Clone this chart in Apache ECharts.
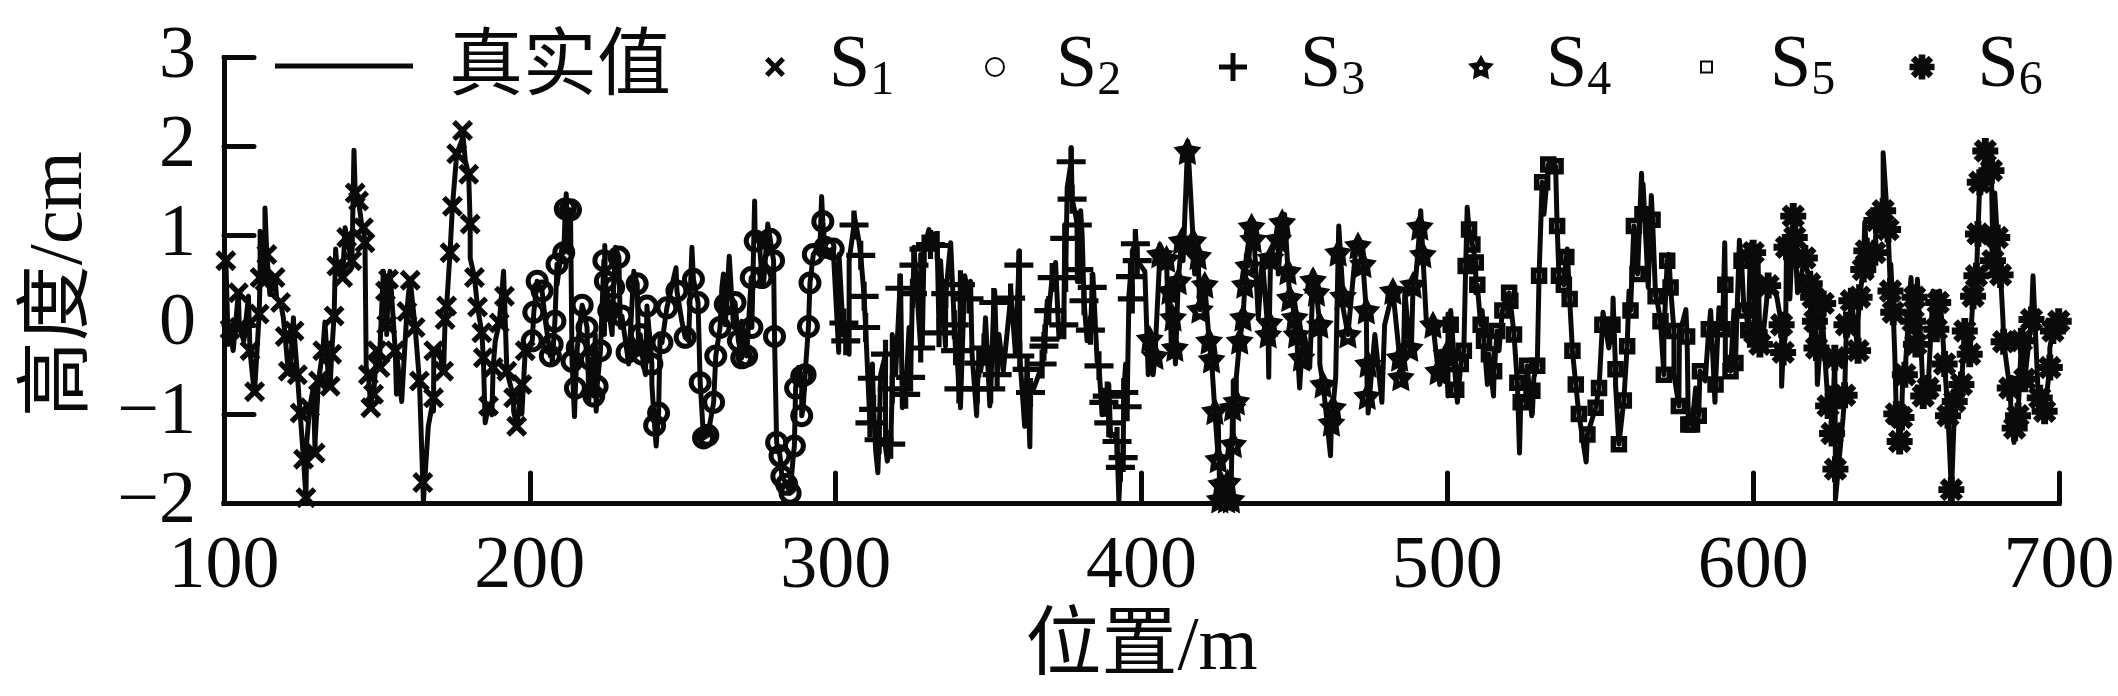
<!DOCTYPE html>
<html><head><meta charset="utf-8">
<style>html,body{margin:0;padding:0;background:#fff}#c{width:2118px;height:696px}</style>
<script src="https://cdn.jsdelivr.net/npm/echarts@6/dist/echarts.min.js"></script>
</head><body><div id="c"></div>
<script>
const xTicks=[100,200,300,400,500,600,700];
const s1=[[100.6,.72],[104.7,.36],[102,-.05],[105,-.03],[108.5,-.29],[110,-.75],[111.5,.12],[111.8,.53],[114,.79],[113.4,.49],[116.7,.53],[118.5,.25],[120,-.13],[122.9,-.07],[121,-.52],[124,-.56],[124.9,-.99],[126,-1.51],[129.8,-1.44],[126.8,-1.94],[128,-.93],[130.9,-.63],[134.7,-.69],[132.3,-.29],[135.2,-.33],[136,.1],[136.9,.66],[138.8,.53],[141.8,.72],[140.1,.98],[142.9,1.48],[144,1.39],[145.6,1.09],[146.1,.92],[147.2,-.56],[150,-.29],[151,-.48],[148.9,-.78],[148,-.93],[152.8,.38],[153.8,.51],[153.2,0],[160.9,.5],[159.8,.15],[162.5,-.03],[156,-.29],[163.9,-.63],[168.5,-.82],[165,-1.77],[168.6,-.29],[171.8,-.52],[172.3,.06],[172.8,.21],[173.9,.81],[174.7,1.33],[176.1,1.92],[178,2.18],[180,1.69],[180.5,1.13],[181.9,.53],[182.9,.2],[184.3,-.09],[184.8,-.37],[186.5,-.91],[188,-.48],[190,.02],[191.7,.32],[192.5,-.52],[194.7,-.82],[195.7,-1.14],[197.4,-.67],[198.5,-.29]];
const s2=[[200.8,-.18],[201.3,.14],[202.4,.49],[204,.38],[206.7,-.35],[208.2,.04],[207.3,-.22],[208.9,.68],[211.1,.81],[213.3,1.29],[211.6,1.3],[213.8,-.41],[214.9,-.71],[217.1,.22],[215.5,-.26],[218.7,-.03],[219.8,-.39],[223.1,-.29],[222,-.69],[220.9,-.8],[224.2,.72],[224.7,.49],[225.8,.16],[229.1,.76],[227.4,.42],[230.1,.1],[231.8,-.31],[235.1,.46],[236.1,-.11],[238.3,.21],[236.7,-.33],[239.9,-.44],[242.1,-.99],[240.8,-1.13],[243.2,-.2],[244.8,.19],[248.1,.38],[250.8,-.14],[253.5,.51],[255,.25],[255.7,-.65],[256.8,-1.27],[258.2,-1.24],[260.1,-.87],[260.8,-.35],[262.2,-.03],[263.9,.23],[268.2,-.18],[267.1,.25],[269.3,-.37],[270.9,-.35],[272.6,-.03],[272.4,.53],[273.7,.94],[275.9,.53],[278.6,.96],[279.7,.72],[280,-.13],[280.7,-1.32],[281.8,-1.47],[286.5,-1.36],[282.4,-1.7],[284,-1.79],[285.1,-1.89],[286.9,-.71],[288.9,-.58],[290,-.56],[288.9,-1.02],[291.1,-.02],[291.6,.47],[292.7,.79],[295.8,1.16],[296.5,.87],[299.2,.85]];
const s3=[[306,1.12],[308.2,.78],[309.3,.32],[309.8,-.03],[302.7,.02],[303.3,-.18],[312,-.6],[311.2,-1.1],[312.4,-.95],[314.2,-1.29],[318,-1.34],[316.3,-.33],[318.5,-.72],[322.9,-.78],[324.5,-.59],[321,.41],[325.1,.35],[325.6,.67],[328.9,.85],[331,.9],[333.2,.89],[333.8,-.09],[327.8,-.26],[336,.35],[338.8,0],[340.8,.45],[340.3,-.72],[339.2,-.29],[343.6,.29],[346.3,-.72],[350.7,-.72],[346.8,-.43],[348.5,-.26],[351.7,.25],[352.8,-.56],[357.2,.3],[359.9,.67],[360.2,-.35],[362.6,-.5],[363.7,-.76],[368.1,-.24],[367.5,-.44],[368.4,-.16],[369.7,.16],[370.8,.53],[374.6,0],[375.2,.53],[374.9,.97],[377.3,1.41],[377,1.83],[379,1.12],[379.5,.62],[381.2,.27],[383.9,.42],[383.3,-.06],[386.1,-.46],[388.8,-.8],[387.7,-.87],[389.3,-1.1],[392,-1.31],[394.2,-.76],[395.3,-.92],[394,-1.49],[393.1,-1.6],[398,.91],[397,.29],[396.4,.54],[398.6,.72]];
const s4=[[402.7,-.16],[404.4,-.35],[406,.79],[408.2,.74],[409.3,.38],[410.3,.08],[410.9,-.26],[412,.49],[413.1,.94],[415,1.95],[416.9,.94],[418.5,.77],[419.1,.17],[420.7,.45],[422.1,-.18],[422.9,-.39],[424,-.97],[425.1,-1.51],[426.1,-1.79],[425.6,-1.96],[427.8,-1.96],[429.4,-1.96],[428.2,-1.77],[430,-1.34],[429.8,-.93],[431,-.86],[432.1,-.18],[433.2,.08],[433.8,.45],[434.9,.66],[436,1.1],[436.5,.96],[441.4,-.11],[441.8,.02],[442.2,.75],[444.7,.96],[446,1.15],[447.9,.6],[448.5,.3],[450.1,.08],[450.7,-.11],[452.3,-.37],[456.1,.5],[457.2,.36],[458.3,0],[459.4,-.67],[462.6,-.93],[462.1,-1.1],[464.3,.81],[465.9,.32],[467.5,-.11],[470.8,.89],[472.4,.68],[473.5,.16],[474.1,-.44],[473.8,-.8],[482.2,.38],[484.4,-.37],[484.8,-.59],[487.7,-.26],[491,1.1],[492,.79],[488.8,.45],[495.3,0],[497,-.52],[499.7,-.33]];
const s5=[[500.5,-.44],[501.1,0],[502.9,-.73],[504.4,-.44],[505.4,-.29],[506,.66],[507.1,1.07],[508.2,.9],[509.3,.7],[509.8,.45],[510.9,0],[512,-.18],[513.6,-.33],[515.3,-.52],[516.3,-.07],[518,.16],[520.2,.36],[520.6,.27],[521.8,-.11],[522.9,-.65],[524,-.87],[526.1,-.46],[527.8,-.74],[529.4,-.46],[530,.55],[531,1.6],[533,1.8],[535.4,1.78],[535.9,1.11],[536.5,.55],[538.9,.76],[538.1,.45],[540,.29],[540.9,-.29],[542,-.67],[543,-1],[545.8,-1.23],[548.5,-.93],[549.6,-.71],[550.7,0],[554,0],[555,-.5],[556.1,-1.34],[557.7,-.85],[558.8,-.24],[559.9,.16],[561,1.11],[562.2,.57],[563.8,1.24],[567.1,1.18],[568.1,.32],[569.7,.04],[571.9,.72],[573,.42],[570.8,-.56],[574.1,-.07],[575.7,-.91],[578.4,-.13],[578.8,-1.12],[580,-1.12],[582.2,-1.02],[582.6,-.52],[585.5,-.05],[587.7,-.67],[590.9,.45],[590,-.05],[592.6,-.52],[594.2,-.43],[596.2,.72],[597,.16],[598.4,-.06]];
const s6=[[600,.81],[602.2,-.22],[604.9,.44],[600.5,-.09],[609.3,0],[609.8,-.31],[610.9,.87],[613.1,1.22],[613.6,.98],[616.9,.75],[618.5,.46],[619.6,.31],[620.2,.04],[622.9,.24],[620.7,-.26],[624.5,-.91],[625.8,-1.22],[626.9,-1.62],[626.7,-.37],[629.9,-.79],[630.5,0],[632.1,.27],[634.8,.31],[634.3,-.29],[636,.62],[637,.83],[639.8,.81],[640.3,1.17],[642.5,1.28],[644.1,1.07],[644.9,.38],[645.8,.14],[646.8,-1],[648.5,-1.04],[647.9,-1.31],[649.6,-.56],[652.8,.31],[652.3,.04],[653.2,-.22],[655.6,-.8],[657.2,-.71],[660.5,.25],[659.9,-.05],[662.6,-.44],[663.7,-1.02],[665.9,-.86],[668.1,-.67],[664.8,-1.85],[669.2,-.07],[670.8,-.33],[671.9,.32],[673,.55],[673.5,1.02],[674.1,1.6],[675.9,1.95],[677.9,1.73],[679.8,.98],[678.4,.72],[680.9,.56],[681.9,-.19],[683.9,-.71],[685.5,-1.16],[686.6,-1.02],[687.7,-.18],[688.8,-.61],[691,.06],[693.7,-.82],[695.3,-.97],[697,-.48],[698,-.07],[699.9,.04]];
// Turning points that only the true-value line reaches; between them it runs through the points read for the markers.
const truthOnly=[[100,.77],[109.6,-.67],[111.8,1.05],[113.4,1.31],[142.5,1.96],[146.5,-.48],[156.4,-.78],[158.1,-.86],[165.2,-1.98],[177.8,2.07],[186,-1.1],[191.4,.6],
[211.9,1.47],[214.6,-1.03],[221.7,-.97],[224.5,.89],[226.9,-.11],[241.3,-1.36],[247.8,.64],[253,.87],[263.3,.57],[265.2,.77],[273.5,1.39],[277.8,1.13],[295.4,1.44],
[301,-.31],[304.4,-.33],[313.8,-1.66],[316.9,-1.53],[322.1,-.93],[330.5,1.07],[335.9,-.24],[337.6,.92],[340.8,-.93],[346.1,-1.02],[350.4,-.91],[352,.38],[354.8,-.52],[360.1,.83],[361.8,-1.14],[363.5,-1.37],[371.9,.7],[377,1.99],[380.1,1.28],[382.8,-.2],[384.1,.57],[389.9,-1.25],[392.6,-1.98],[398,1.05],
[403.8,-.56],[411.1,-.44],[415.1,2.06],[429.4,-1.66],[430.7,-.61],[441.6,-.59],[451.7,-.71],[461.8,-1.47],[464.5,1.11],[474.1,-.99],[478.6,-.87],[491.3,1.28],[500.2,-.8],
[506.5,1.32],[515.1,-.8],[523.6,-1.44],[527.8,-1],[545.4,-1.54],[550.9,.14],[554.2,.3],[563.5,1.7],[566.7,1.45],[578,.17],[586.1,.16],[587.5,-.87],[590.7,.92],[595.5,.95],
[609.3,-.69],[612,.29],[614.5,.36],[621,-.67],[626.9,-1.96],[629.6,-1.06],[636.5,1.15],[642.5,1.93],[647.4,-1.12],[651.6,.53],[653.7,.51],[664.8,-1.94],[679,1.48],[685.3,-1.32],[691.5,.55],[700,.04]];
const truthDetail=[[101.4,-.22],[103,-.29],[106.5,-.18],[108,.32],[109.6,-.41],[115,.34],[117.2,.3],[119.4,.08],[121.6,-.56],[122.7,.08],[127,-1.34],[129.2,-.71],[129.8,-1.3],[133,.03],[134.1,-.59],[136.5,.85],[139.6,1.09],[141.8,.64],[145,1.13],[148.3,-.82],[151,-.26],[152.1,.6],[153.2,-.11],[154.3,.6],[156.5,-.33],[160.3,.34],[166.8,-1.14],[168.5,-.97],[170.1,-.26],[178.9,1.84],[180.5,.75],[185.4,-1.1],[187.6,-1.01],[188.7,-.18],[194.7,-.97],[197.4,-1],
[205.1,.04],[207.3,-.44],[208.9,.45],[210.6,.9],[212.7,.81],[217.6,.16],[219.3,-.86],[221.4,-.11],[224.4,-.11],[227.1,-.11],[228,.87],[229.6,-.03],[232.3,-.44],[234,.6],[235.6,-.33],[237.8,-.56],[239.9,-.67],[242.6,-.11],[249.7,.04],[251.9,-.18],[262.8,.42],[263.9,0],[266.6,-.03],[269.3,.04],[274.8,1.02],[276.4,.45],[286.2,-1.45],[287.8,-.48],[289.4,-.93],[294.9,.9],[297.6,.83],
[301.1,.79],[302.5,-.11],[304.4,.72],[306,1.24],[307.6,.94],[312,-.44],[313.1,-1.42],[314.7,-.56],[316.3,-1.38],[318.5,-.11],[319.6,-.56],[321.2,.55],[321.8,-.93],[324,-.03],[325.6,.87],[328.3,-.26],[327.8,.79],[332,1.02],[334.3,.72],[339.8,-.41],[342.2,.55],[344.1,.49],[344.6,-.33],[347.4,-.52],[349,.08],[353.4,-.11],[357.2,.4],[358.8,-.33],[364.8,-.71],[366.4,-.56],[369.2,.27],[373,-.14],[375.7,1.54],[378.4,1.24],[379,.49],[380.6,1],[382.2,-.18],[385.5,-.41],[387.1,-1.01],[389.3,-.67],[391,-1.23],[394.8,-.44],[395.9,.34],[397,.83],
[401.1,.6],[402.2,-.56],[406,.9],[408.7,.04],[409.8,-.33],[411.4,-.46],[413.6,.72],[417.4,.57],[425.1,-1.08],[430,-.63],[431,-.59],[434.3,.79],[436.5,1.17],[438.2,.08],[439.5,.75],[443,.87],[444.7,.57],[446.8,1.24],[449.6,.19],[453.4,-.14],[455,-.48],[456.1,.6],[458.3,-.44],[463.5,-.59],[465.9,.19],[470.3,.94],[476.3,-.11],[479.5,0],[485.5,-.63],[486.1,.38],[488.2,-.33],[489.7,.53],[493.1,.06],[497.5,-.67],[500.2,.12],
[501.1,.16],[503.3,-.87],[509.3,.36],[511.4,.16],[513.1,-.67],[516.9,-.29],[521.2,.08],[525.6,-.78],[527.6,-1.02],[528.3,-.59],[531.6,1.24],[539.2,.85],[552.8,-.26],[555,-.67],[559.4,.38],[562.1,.72],[564,1.58],[565.7,.42],[568.6,.27],[570.8,-.11],[572.4,.79],[574.1,-.56],[575.9,-.11],[579,-1],[581.2,-.71],[584.3,-.63],[588.8,.19],[590.9,-.48],[593.7,.16],[597.5,.19],[599.1,.9],
[601.6,.72],[603.3,-.11],[607.6,.34],[610.6,-.11],[619.1,-.18],[620.7,-.14],[622.9,-.07],[625.1,-.71],[629.4,-1.04],[631,-.11],[634.3,.04],[638.7,.57],[645,.68],[646.3,-.33],[649,-.52],[655,-.33],[658.8,.38],[661,.38],[674.6,1.5],[681.7,.04],[684.4,-1],[688.2,-.07],[693.1,-.71],[697,-.26]];
const truth=[...s1,...s2,...s3,...s4,...s5,...s6,...truthOnly,...truthDetail].sort((a,b)=>a[0]-b[0]);

const ink='#0a0a0a', serif='"Liberation Serif","Noto Sans CJK SC",serif';
const P={
 x:'path://M3.6 0L10 6.4L16.4 0L20 3.6L13.6 10L20 16.4L16.4 20L10 13.6L3.6 20L0 16.4L6.4 10L0 3.6Z',
 plus:'path://M11.5 0H16.5V11.5H28V16.5H16.5V28H11.5V16.5H0V11.5H11.5Z',
 star:'path://M50 0L66 29L100 35L76 60L81 95L50 80L19 95L24 60L0 35L34 29ZM50 43L41.4 49.5L44.7 59.5L55.3 59.5L58.6 49.5Z',
 ast:'path://M8.8 0H15.2V24H8.8ZM0 8.8H24V15.2H0ZM5.6 1.2L22.8 18.4L18.4 22.8L1.2 5.6ZM18.4 1.2L22.8 5.6L5.6 22.8L1.2 18.4ZM7 7H17V17H7Z'
};
const solid={color:ink,borderWidth:0,opacity:1};
const hollow=w=>({color:'rgba(255,255,255,0)',borderColor:ink,borderWidth:w,opacity:1});
const marks=[
 {name:'S1',data:s1,symbol:P.x,size:21,style:solid,left:765,w:20,h:20,pad:39},
 {name:'S2',data:s2,symbol:'circle',size:18,style:hollow(5),left:985,w:18,h:18,pad:47},
 {name:'S3',data:s3,symbol:P.plus,size:29,style:solid,left:1219,w:28,h:28,pad:48},
 {name:'S4',data:s4,symbol:P.star,size:28,style:solid,left:1468,w:26,h:26,pad:47},
 {name:'S5',data:s5,symbol:'rect',size:11,style:hollow(5.5),left:1700,w:11,h:11,pad:53},
 {name:'S6',data:s6,symbol:P.ast,size:26,style:solid,left:1909.5,w:25,h:25,pad:38}
];
const legendTop=30;
const rich=pad=>({
 s:{fontFamily:serif,fontSize:74,color:ink,lineHeight:84,padding:[0,0,0,pad]},
 n:{fontFamily:serif,fontSize:48,color:ink,lineHeight:44,verticalAlign:'bottom',padding:[0,0,4,0]}
});
const legends=[{data:['真实值'],left:275,top:25,padding:0,icon:'rect',itemWidth:138,itemHeight:5,
  itemStyle:{color:ink},
  formatter:n=>'{s|'+n+'}',textStyle:{rich:{s:{fontFamily:serif,fontSize:74,color:ink,lineHeight:84,padding:[8,0,0,31]}}}}]
 .concat(marks.map(m=>({data:[m.name],left:m.left,top:legendTop,padding:0,itemWidth:m.w,itemHeight:m.h,
  formatter:n=>'{s|S}{n|'+n.slice(1)+'}',textStyle:{rich:rich(m.pad)}})));

const chart=echarts.init(document.getElementById('c'),null,{renderer:'canvas'});
chart.setOption({
 animation:false,backgroundColor:'#fff',
 grid:{left:224,right:59,top:57.5,bottom:193},
 legend:legends,
 xAxis:{type:'value',min:100,max:700,interval:100,name:'位置/m',nameLocation:'middle',nameGap:108,
  nameTextStyle:{fontFamily:serif,fontSize:76,color:ink},
  axisLine:{onZero:false,lineStyle:{color:ink,width:5,cap:'square'}},
  axisTick:{inside:true,length:30,lineStyle:{color:ink,width:5,cap:'round'},customValues:xTicks},
  axisLabel:{fontFamily:serif,fontSize:74,color:ink,margin:28,showMinLabel:true,showMaxLabel:true,hideOverlap:false},
  splitLine:{show:false}},
 yAxis:{type:'value',min:-2,max:3,interval:1,name:'高度/cm',nameLocation:'middle',nameGap:125,
  nameTextStyle:{fontFamily:serif,fontSize:76,color:ink,padding:[0,8,0,0]},
  axisLine:{onZero:false,lineStyle:{color:ink,width:5,cap:'square'}},
  axisTick:{inside:true,length:30,lineStyle:{color:ink,width:5,cap:'round'}},
  axisLabel:{fontFamily:serif,fontSize:74,color:ink,margin:28,showMinLabel:true,showMaxLabel:true,hideOverlap:false,
   formatter:v=>String(v).replace('-','\u2212')},
  splitLine:{show:false}},
 series:[{name:'真实值',type:'line',data:truth,showSymbol:false,clip:false,lineStyle:{color:ink,width:5,join:'round'},itemStyle:{color:ink},z:2}]
 .concat(marks.map(m=>({name:m.name,type:'scatter',data:m.data,symbol:m.symbol,symbolSize:m.size,clip:false,itemStyle:m.style,z:3})))
});
</script></body></html>
